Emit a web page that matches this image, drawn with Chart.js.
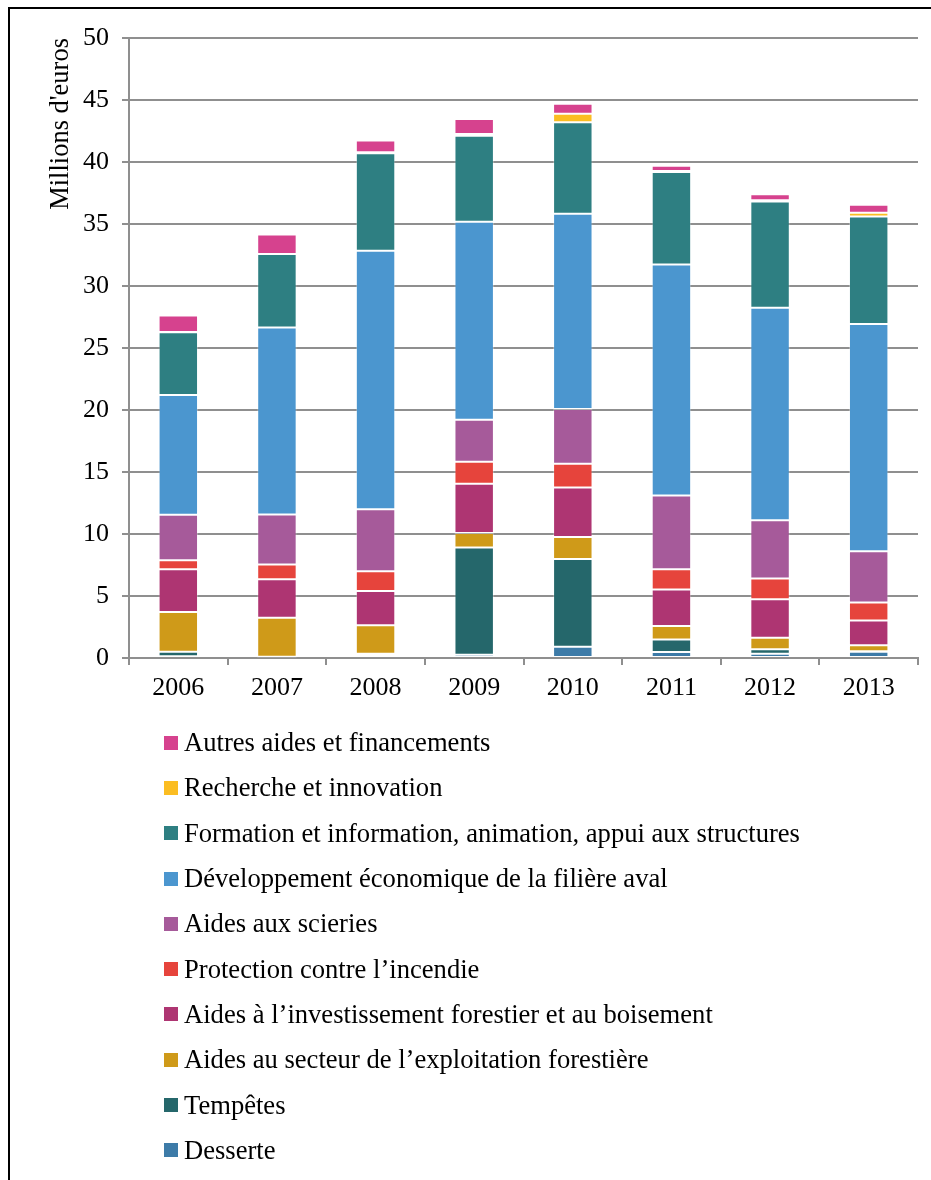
<!DOCTYPE html>
<html lang="fr">
<head>
<meta charset="utf-8">
<title>Aides à la filière forêt-bois</title>
<script src="https://cdn.jsdelivr.net/npm/chart.js@4.4.1/dist/chart.umd.min.js"></script>
<style>
  html, body { margin: 0; padding: 0; background: #fff; }
  .page { position: relative; width: 931px; height: 1180px; overflow: hidden; }
  .frame { position: absolute; left: 8px; top: 7px; width: 1000px; height: 1300px;
           border-left: 2px solid #000; border-top: 2px solid #000; pointer-events: none; }
  .chart-box { position: absolute; left: 0; top: 0; width: 931px; height: 1180px; }
  #legend { position: absolute; left: 164px; top: 720px; margin: 0; padding: 0; list-style: none;
            font-family: "Liberation Serif", "Times New Roman", serif; font-size: 26.6px; color: #000; }
  #legend li { display: flex; align-items: center; height: 45.3px; white-space: nowrap; }
  #legend .box { display: inline-block; width: 14px; height: 14px; margin-right: 6px; }
</style>
</head>
<body>
<div class="page">
  <div class="chart-box"><canvas id="aidesChart"></canvas></div>
  <div class="frame"></div>
  <ul id="legend"></ul>
</div>
<script>
// Years and series (millions d'euros), stacked bottom to top
const years = ['2006', '2007', '2008', '2009', '2010', '2011', '2012', '2013'];

const desserte = [0.15, 0.05, 0.2, 0.27, 0.91, 0.48, 0.35, 0.5];
const tempetes = [0.35, 0.05, 0.15, 8.65, 7.07, 1.02, 0.35, 0.05];
const exploitation = [3.2, 3.15, 2.3, 1.16, 1.78, 1.08, 0.94, 0.48];
const investissement = [3.45, 3.1, 2.75, 3.98, 3.98, 2.95, 3.09, 1.99];
const incendie = [0.73, 1.2, 1.6, 1.77, 1.93, 1.62, 1.69, 1.45];
const scieries = [3.67, 4.03, 5.0, 3.39, 4.41, 5.96, 4.68, 4.14];
const developpement = [9.65, 15.08, 20.85, 15.97, 15.75, 18.62, 17.14, 18.32];
const formation = [5.07, 5.93, 7.85, 6.93, 7.37, 7.47, 8.57, 8.68];
const recherche = [0.03, 0, 0.08, 0.14, 0.7, 0.08, 0.11, 0.3];
const autres = [1.33, 1.57, 0.95, 1.21, 0.8, 0.42, 0.48, 0.64];

const yTicks = [0, 5, 10, 15, 20, 25, 30, 35, 40, 45, 50];

const FONT = '"Liberation Serif", "Times New Roman", serif';
const GRID = '#8f8f8f';

function series(label, data, color) {
  return {
    label: label,
    data: data,
    backgroundColor: color,
    borderColor: 'rgba(255, 255, 255, 0.3)',
    borderWidth: 1,
    borderSkipped: false,
    barPercentage: 0.4,
    categoryPercentage: 1
  };
}

// HTML legend, last series first (same as the original)
const htmlLegend = {
  id: 'htmlLegend',
  afterUpdate(chart) {
    const list = document.getElementById('legend');
    list.innerHTML = '';
    const items = chart.options.plugins.legend.labels.generateLabels(chart).reverse();
    items.forEach(item => {
      const li = document.createElement('li');
      const box = document.createElement('span');
      box.className = 'box';
      box.style.background = item.fillStyle;
      const text = document.createElement('span');
      text.textContent = item.text;
      li.appendChild(box);
      li.appendChild(text);
      list.appendChild(li);
    });
  }
};

const ctx = document.getElementById('aidesChart');
new Chart(ctx, {
  type: 'bar',
  data: {
    labels: years,
    datasets: [
      series('Desserte', desserte, '#3d7ba8'),
      series('Tempêtes', tempetes, '#25676b'),
      series('Aides au secteur de l\u2019exploitation forestière', exploitation, '#cf9a19'),
      series('Aides à l\u2019investissement forestier et au boisement', investissement, '#ae3572'),
      series('Protection contre l\u2019incendie', incendie, '#e6443c'),
      series('Aides aux scieries', scieries, '#a65a9a'),
      series('Développement économique de la filière aval', developpement, '#4b96cf'),
      series('Formation et information, animation, appui aux structures', formation, '#2e7f82'),
      series('Recherche et innovation', recherche, '#fbbd22'),
      series('Autres aides et financements', autres, '#d6428e')
    ]
  },
  options: {
    responsive: true,
    maintainAspectRatio: false,
    animation: false,
    layout: {
      padding: { left: 0, top: 38, right: 13, bottom: 0 }
    },
    scales: {
      x: {
        stacked: true,
        afterFit(scale) { scale.height = 522; },
        grid: {
          drawOnChartArea: false,
          drawTicks: true,
          tickLength: 7,
          offset: true,
          color: GRID,
          lineWidth: 2
        },
        border: { color: GRID, width: 2 },
        ticks: {
          color: '#000',
          padding: 8,
          font: { family: FONT, size: 26 }
        }
      },
      y: {
        stacked: true,
        min: 0,
        max: 50,
        afterFit(scale) { scale.width = 129; },
        afterBuildTicks(scale) { scale.ticks = yTicks.map(v => ({ value: v })); },
        grid: {
          color: GRID,
          lineWidth: 2,
          tickLength: 7
        },
        border: { color: GRID, width: 2 },
        ticks: {
          color: '#000',
          padding: 13,
          font: { family: FONT, size: 26 }
        },
        title: {
          display: true,
          text: 'Millions d\'euros',
          align: 'end',
          color: '#000',
          padding: { top: 45, bottom: 0 },
          font: { family: FONT, size: 26.5 }
        }
      }
    },
    plugins: {
      legend: { display: false },
      tooltip: { enabled: false }
    }
  },
  plugins: [htmlLegend]
});
</script>
</body>
</html>
